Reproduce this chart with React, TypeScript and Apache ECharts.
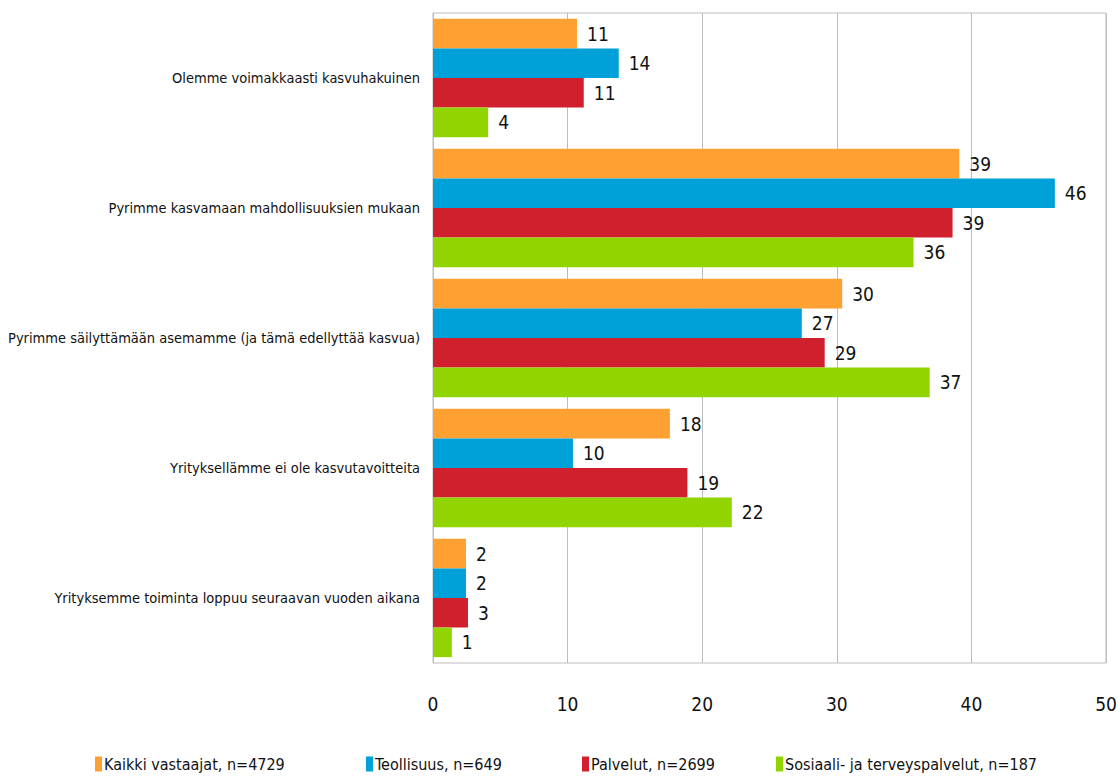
import React, { useEffect, useRef } from "react";
import * as echarts from "echarts";

const categories = [
  "Olemme voimakkaasti kasvuhakuinen",
  "Pyrimme kasvamaan mahdollisuuksien mukaan",
  "Pyrimme säilyttämään asemamme (ja tämä edellyttää kasvua)",
  "Yrityksellämme ei ole kasvutavoitteita",
  "Yrityksemme toiminta loppuu seuraavan vuoden aikana",
];
const seriesNames = [
  "Kaikki vastaajat, n=4729",
  "Teollisuus, n=649",
  "Palvelut, n=2699",
  "Sosiaali- ja terveyspalvelut, n=187",
];
const kaikki = [10.7, 39.1, 30.4, 17.6, 2.45];
const teollisuus = [13.8, 46.2, 27.4, 10.4, 2.45];
const palvelut = [11.2, 38.6, 29.1, 18.9, 2.6];
const sosiaali = [4.1, 35.7, 36.9, 22.2, 1.4];
const colors = ["#ffa033", "#00a0d8", "#d0202e", "#92d400"];
const xTicks = [0, 10, 20, 30, 40, 50];
const legendLefts = [95, 366, 582, 776];

const FONT = "'DejaVu Sans Condensed', 'DejaVu Sans', sans-serif";

export default function App() {
  const ref = useRef<HTMLDivElement>(null);
  useEffect(() => {
    if (!ref.current) return;
    const chart = echarts.init(ref.current, null, { renderer: "svg" });
    const data = [kaikki, teollisuus, palvelut, sosiaali];
    chart.setOption({
      animation: false,
      textStyle: { fontFamily: FONT },
      grid: {
        left: 433, right: 12, top: 13, bottom: 113,
        containLabel: false, outerBoundsMode: "none",
        show: true, borderColor: "#bdbdbd", borderWidth: 1,
      },
      legend: seriesNames.map((name, i) => ({
        top: 756,
        left: legendLefts[i],
        itemWidth: 7,
        itemHeight: 15,
        icon: "rect",
        padding: 0,
        textStyle: { fontFamily: FONT, fontSize: 16, color: "#111", padding: [0, 0, 0, -3] },
        data: [name],
      })),
      xAxis: {
        type: "value",
        min: 0,
        max: 50,
        interval: 10,
        axisLine: { show: false },
        axisTick: { show: false },
        splitLine: { show: true, lineStyle: { color: "#bdbdbd", width: 1 } },
        axisLabel: {
          fontFamily: FONT,
          fontSize: 19,
          color: "#111",
          margin: 31,
          formatter: (v: number) => (xTicks.includes(v) ? String(v) : ""),
        },
      },
      yAxis: {
        type: "category",
        inverse: true,
        data: categories,
        axisLine: { show: true, lineStyle: { color: "#bdbdbd" } },
        axisTick: { show: false },
        axisLabel: { fontFamily: FONT, fontSize: 14.5, color: "#111", margin: 13 },
      },
      series: seriesNames.map((name, i) => ({
        name,
        type: "bar",
        data: data[i],
        barGap: "0%",
        barCategoryGap: "9%",
        itemStyle: { color: colors[i] },
        label: {
          show: true,
          position: "right",
          distance: 10,
          fontFamily: FONT,
          fontSize: 19,
          color: "#111",
          formatter: (p: any) => String(Math.round(p.value)),
        },
      })),
    });
    return () => chart.dispose();
  }, []);
  return (
    <div ref={ref} style={{ width: 1118, height: 776, position: "absolute", left: 0, top: 0 }} />
  );
}
